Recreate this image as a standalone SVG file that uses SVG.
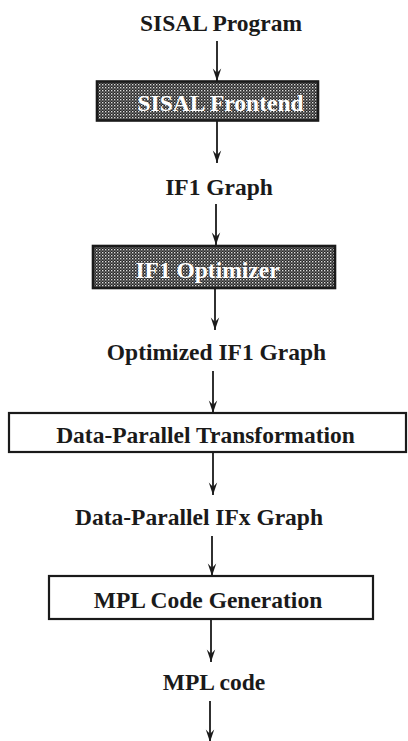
<svg xmlns="http://www.w3.org/2000/svg" width="408" height="741" viewBox="0 0 408 741">
  <defs>
    <!-- halftone dot screen for the shaded processing stages -->
    <pattern id="screen" width="3" height="3" patternUnits="userSpaceOnUse">
      <rect width="3" height="3" fill="#262626"/>
      <rect x="0" y="0" width="1.4" height="1.4" fill="#dcdcdc"/>
      <rect x="1.5" y="1.5" width="1.2" height="1.2" fill="#9a9a9a"/>
    </pattern>
    <!-- slim notched arrowhead; tip sits on the line end -->
    <marker id="head" markerWidth="14" markerHeight="10" viewBox="-13 -5 14 10" refX="0" refY="0" orient="auto" markerUnits="userSpaceOnUse">
      <path d="M0,0 L-12.5,-4.2 L-8,0 L-12.5,4.2 Z" fill="#1a1a1a"/>
    </marker>
  </defs>
  <style>
    .lbl { font-family: "Liberation Serif", "Times New Roman", serif; font-weight: bold; font-size: 23.5px; fill: #1a1a1a; text-anchor: middle; }
    .inv { fill: #ffffff; }
    .box { fill: #ffffff; stroke: #1a1a1a; stroke-width: 2.2; }
    .shade { fill: url(#screen); stroke: #1a1a1a; stroke-width: 2.6; }
    .wire { stroke: #1a1a1a; stroke-width: 1.8; fill: none; }
  </style>
  <rect width="408" height="741" fill="#ffffff"/>

  <g id="connectors">
    <line class="wire" x1="217" y1="41" x2="217" y2="81" marker-end="url(#head)"/>
    <line class="wire" x1="217" y1="121" x2="217" y2="163" marker-end="url(#head)"/>
    <line class="wire" x1="216" y1="204" x2="216" y2="245" marker-end="url(#head)"/>
    <line class="wire" x1="215" y1="288" x2="215" y2="330" marker-end="url(#head)"/>
    <line class="wire" x1="213" y1="371" x2="213" y2="413" marker-end="url(#head)"/>
    <line class="wire" x1="213" y1="452" x2="213" y2="495" marker-end="url(#head)"/>
    <line class="wire" x1="212" y1="536" x2="212" y2="576" marker-end="url(#head)"/>
    <line class="wire" x1="211" y1="619" x2="211" y2="662" marker-end="url(#head)"/>
    <line class="wire" x1="210" y1="701" x2="210" y2="742" marker-end="url(#head)"/>
  </g>

  <g id="sisal-program">
    <text class="lbl" x="221" y="31">SISAL Program</text>
  </g>

  <g id="sisal-frontend">
    <rect class="shade" x="97" y="81.5" width="221" height="39"/>
    <text class="lbl inv" x="220.5" y="111">SISAL Frontend</text>
  </g>

  <g id="if1-graph">
    <text class="lbl" x="219" y="195">IF1 Graph</text>
  </g>

  <g id="if1-optimizer">
    <rect class="shade" x="93" y="246" width="242" height="42"/>
    <text class="lbl inv" x="207.5" y="278">IF1 Optimizer</text>
  </g>

  <g id="optimized-if1-graph">
    <text class="lbl" x="216.5" y="360">Optimized IF1 Graph</text>
  </g>

  <g id="data-parallel-transformation">
    <rect class="box" x="9" y="413" width="397" height="39"/>
    <text class="lbl" x="205.5" y="443">Data-Parallel Transformation</text>
  </g>

  <g id="data-parallel-ifx-graph">
    <text class="lbl" x="199" y="525">Data-Parallel IFx Graph</text>
  </g>

  <g id="mpl-code-generation">
    <rect class="box" x="49" y="576" width="324" height="43"/>
    <text class="lbl" x="208" y="608">MPL Code Generation</text>
  </g>

  <g id="mpl-code">
    <text class="lbl" x="214" y="690">MPL code</text>
  </g>
</svg>
